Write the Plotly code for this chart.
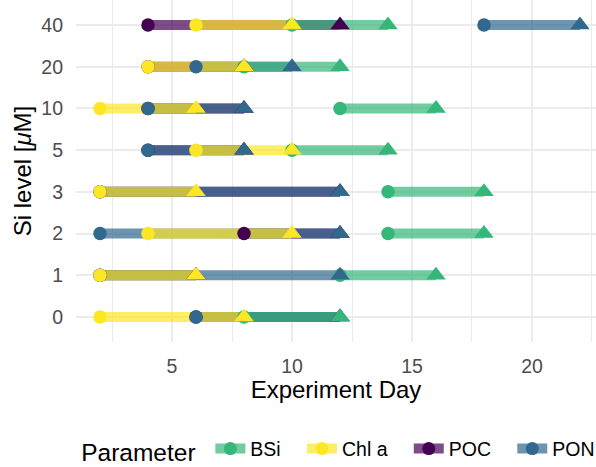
import plotly.graph_objects as go

# Si levels (bottom to top) and the parameters measured at each level
si_levels = ["0", "1", "2", "3", "5", "10", "20", "40"]
parameters = ["POC", "PON", "Chl a", "BSi"]  # drawing order (bottom to top)
legend_order = ["BSi", "Chl a", "POC", "PON"]

# First and last experiment day of each parameter, per Si level
bsi_start = [8, 12, 14, 14, 10, 12, 8, 10]
bsi_end = [12, 16, 18, 18, 14, 16, 12, 14]
chla_start = [2, 2, 4, 2, 6, 2, 4, 6]
chla_end = [8, 6, 10, 6, 10, 6, 8, 10]
poc_start = [6, 2, 8, 2, 4, 4, 4, 4]
poc_end = [12, 6, 12, 12, 8, 8, 8, 12]
pon_start = [6, 2, 2, 2, 4, 4, 6, 18]
pon_end = [12, 12, 12, 12, 8, 8, 10, 22]

starts = {"BSi": bsi_start, "Chl a": chla_start, "POC": poc_start, "PON": pon_start}
ends = {"BSi": bsi_end, "Chl a": chla_end, "POC": poc_end, "PON": pon_end}

colors = {"BSi": (53, 183, 121), "Chl a": (253, 231, 37),
          "POC": (68, 1, 84), "PON": (49, 104, 142)}
ALPHA = 0.7


def rgb(c, a=1.0):
    return f"rgba({c[0]},{c[1]},{c[2]},{a})"


fig = go.Figure()

# Translucent segments from first to last day
for p in parameters:
    xs, ys = [], []
    for lvl, s, e in zip(si_levels, starts[p], ends[p]):
        xs += [s, e, None]
        ys += [lvl, lvl, None]
    fig.add_trace(go.Scatter(
        x=xs, y=ys, mode="lines",
        line=dict(color=rgb(colors[p], ALPHA), width=10),
        showlegend=False, hoverinfo="skip"))

# Start-day circles
for p in parameters:
    fig.add_trace(go.Scatter(
        x=starts[p], y=si_levels, mode="markers",
        marker=dict(symbol="circle", size=13.5, color=rgb(colors[p]), line=dict(width=0)),
        showlegend=False, name=p))

# End-day triangles
for p in parameters:
    fig.add_trace(go.Scatter(
        x=ends[p], y=si_levels, mode="markers",
        marker=dict(symbol="triangle-up", size=17, color=rgb(colors[p]), line=dict(width=0)),
        showlegend=False, name=p))

# Legend entries (padded labels for wider item spacing)
for i, p in enumerate(legend_order):
    label = p if i == len(legend_order) - 1 else p + "\u00a0\u00a0\u00a0"
    fig.add_trace(go.Scatter(
        x=[None], y=[None], mode="lines+markers", name=label,
        line=dict(color=rgb(colors[p], ALPHA), width=10),
        marker=dict(symbol="circle", size=13, color=rgb(colors[p]), line=dict(width=0)),
        showlegend=True))

FONT = "Liberation Sans, Arial, sans-serif"
GRID = "#EBEBEB"

fig.update_layout(
    width=596, height=467,
    margin=dict(l=76, r=0, t=0, b=125, autoexpand=False),
    paper_bgcolor="white", plot_bgcolor="white",
    font=dict(family=FONT, size=19.5, color="#4D4D4D"),
    xaxis=dict(
        range=[1, 22.667], dtick=5, tick0=0,
        showgrid=True, gridcolor=GRID, gridwidth=1.5,
        minor=dict(dtick=2.5, tick0=0, showgrid=True, gridcolor=GRID, gridwidth=0.8),
        zeroline=False, showline=False, ticks="",
        tickfont=dict(size=19.5, color="#4D4D4D"),
        ticklabelstandoff=10,
        title=dict(text="Experiment Day", font=dict(size=24, color="black"), standoff=4),
    ),
    yaxis=dict(
        type="category", categoryorder="array", categoryarray=si_levels,
        range=[-0.6, 7.6],
        showgrid=True, gridcolor=GRID, gridwidth=1.5,
        zeroline=False, showline=False, ticks="",
        tickfont=dict(size=19.5, color="#4D4D4D"),
        ticklabelstandoff=12,
        title=dict(text="Si level [<i>μ</i>M]", font=dict(size=24, color="black"), standoff=2),
    ),
    legend=dict(
        orientation="h", x=-0.007, xanchor="left", y=-0.317, yanchor="middle",
        title=dict(text="\u00a0Parameter ", side="left", font=dict(size=24.5, color="black")),
        font=dict(size=19.5, color="black"),
        itemwidth=30, bgcolor="rgba(0,0,0,0)",
    ),
)

fig.write_html("out.html")
